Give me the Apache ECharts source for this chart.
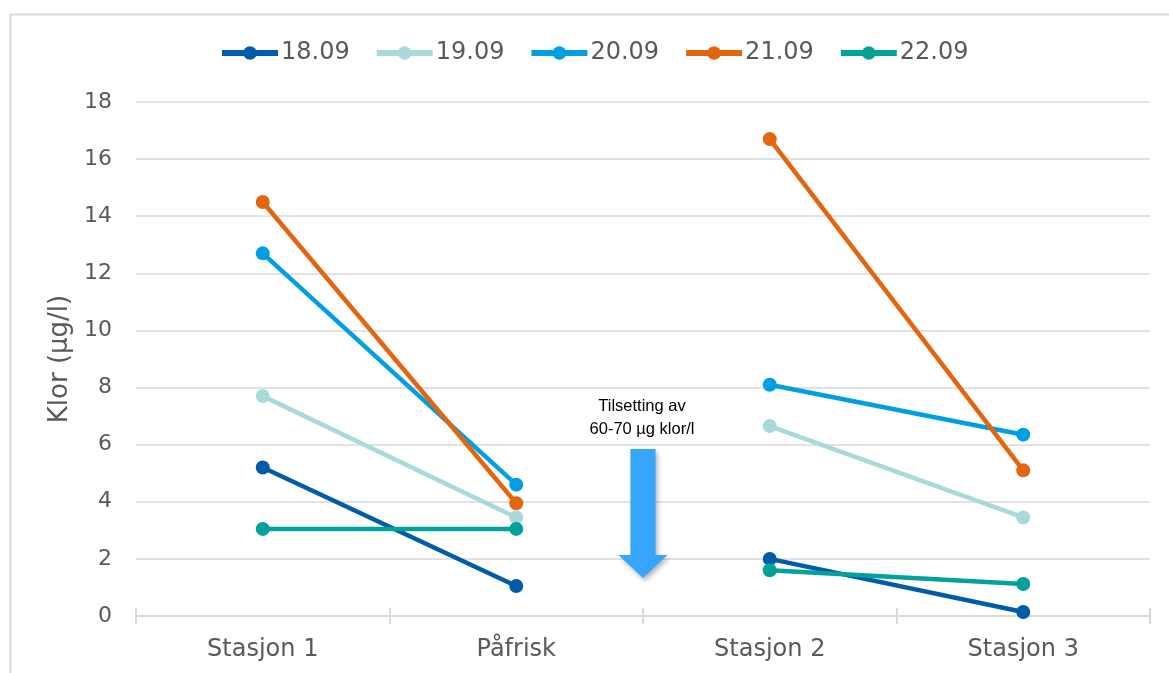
<!DOCTYPE html>
<html>
<head>
<meta charset="utf-8">
<script src="https://cdn.jsdelivr.net/npm/echarts@6/dist/echarts.min.js"></script>
<style>
  html, body { margin: 0; padding: 0; background: #fff; }
  #chart { width: 1169px; height: 673px; }
</style>
</head>
<body>
<div id="chart"></div>
<script>
// Stations along the x axis
const categories = ['Stasjon 1', 'Påfrisk', 'Stasjon 2', 'Stasjon 3'];
const yTicks = [0, 18, 2]; // min, max, step

// Chlorine readings (µg/l) per sampling date
const dates = ['18.09', '19.09', '20.09', '21.09', '22.09'];
const klor_1809 = [5.2, 1.05, 2.0, 0.14];
const klor_1909 = [7.7, 3.45, 6.65, 3.45];
const klor_2009 = [12.7, 4.6, 8.1, 6.35];
const klor_2109 = [14.5, 3.95, 16.7, 5.1];
const klor_2209 = [3.05, 3.05, 1.6, 1.12];
const readings = [klor_1809, klor_1909, klor_2009, klor_2109, klor_2209];

// Dosing annotation between Påfrisk and Stasjon 2
const doseNote = 'Tilsetting av\n60-70 µg klor/l';
const arrowFrom = 5.85;
const arrowTo = 1.33;
const noteAt = 6.95;

const colors = ['#005ba8', '#a8dadb', '#009fe3', '#e3650f', '#00a29a'];
const textGrey = '#595959';
const lineGrey = '#d9d9d9';

const chart = echarts.init(document.getElementById('chart'));

// Each date is drawn as two separate segments (Stasjon 1 → Påfrisk, Stasjon 2 → Stasjon 3)
const series = [];
dates.forEach((d, i) => {
  const v = readings[i];
  const common = {
    name: d,
    type: 'line',
    symbol: 'circle',
    symbolSize: 14,
    showSymbol: true,
    color: colors[i],
    lineStyle: { width: 4.5, color: colors[i] },
    itemStyle: { color: colors[i] },
    emphasis: { disabled: true },
    animation: false,
    z: 2 + i
  };
  series.push(Object.assign({}, common, { data: [v[0], v[1], null, null] }));
  series.push(Object.assign({}, common, { data: [null, null, v[2], v[3]] }));
});

chart.setOption({
  animation: false,
  textStyle: { fontFamily: 'DejaVu Sans' },
  legend: {
    data: dates,
    top: 36,
    left: 214,
    itemWidth: 56,
    itemHeight: 17,
    itemGap: 24,
    lineStyle: { width: 6 },
    textStyle: { fontSize: 24, color: textGrey, fontFamily: 'DejaVu Sans', padding: [0, 0, 0, -2] }
  },
  grid: { left: 136, right: 19, top: 102, bottom: 57 },
  xAxis: [{
    type: 'category',
    data: categories,
    boundaryGap: true,
    axisLine: { lineStyle: { color: lineGrey, width: 2 } },
    axisTick: { show: true, length: 8, lineStyle: { color: lineGrey, width: 2 } },
    axisLabel: { fontSize: 24, color: textGrey, margin: 22 },
    splitLine: { show: false }
  }, {
    type: 'category',
    data: categories,
    position: 'bottom',
    boundaryGap: true,
    axisLine: { show: false },
    axisTick: { show: true, inside: true, length: 8, lineStyle: { color: lineGrey, width: 2 } },
    axisLabel: { show: false },
    splitLine: { show: false }
  }],
  yAxis: {
    type: 'value',
    min: yTicks[0],
    max: yTicks[1],
    interval: yTicks[2],
    name: 'Klor (µg/l)',
    nameLocation: 'middle',
    nameGap: 63,
    nameTextStyle: { fontSize: 26, color: textGrey },
    axisLine: { show: false },
    axisTick: { show: false },
    axisLabel: { fontSize: 22, color: textGrey, margin: 24 },
    splitLine: { lineStyle: { color: lineGrey, width: 1.5 } }
  },
  series: series
});

// Frame, dosing arrow and its note, anchored to the axes
function drawAnnotations() {
  const pA = chart.convertToPixel({ gridIndex: 0 }, [1, arrowFrom]);
  const pB = chart.convertToPixel({ gridIndex: 0 }, [2, arrowTo]);
  const cx = (pA[0] + pB[0]) / 2;
  const yTop = pA[1];
  const yTip = pB[1];
  const yNote = chart.convertToPixel({ gridIndex: 0 }, [1, noteAt])[1];
  const shaft = 12.5, head = 24.5, headLen = 23;
  chart.setOption({
    graphic: [
      {
        type: 'rect',
        left: 8, top: 12,
        shape: { width: 1200, height: 720 },
        style: { fill: 'none', stroke: lineGrey, lineWidth: 2 },
        silent: true, z: 0
      },
      {
        type: 'polygon',
        shape: {
          points: [
            [cx - shaft, yTop], [cx + shaft, yTop], [cx + shaft, yTip - headLen],
            [cx + head, yTip - headLen], [cx, yTip], [cx - head, yTip - headLen],
            [cx - shaft, yTip - headLen]
          ]
        },
        style: {
          fill: '#36a6fd',
          shadowBlur: 5, shadowOffsetX: 2, shadowOffsetY: 3,
          shadowColor: 'rgba(0,0,0,0.3)'
        },
        silent: true, z: 10
      },
      {
        type: 'text',
        x: cx - 1, y: yNote,
        style: {
          text: doseNote,
          fill: '#000',
          font: '16.5px "Liberation Sans", "Open Sans", sans-serif',
          align: 'center',
          verticalAlign: 'middle',
          lineHeight: 23
        },
        silent: true, z: 10
      }
    ]
  });
}
drawAnnotations();
</script>
</body>
</html>
